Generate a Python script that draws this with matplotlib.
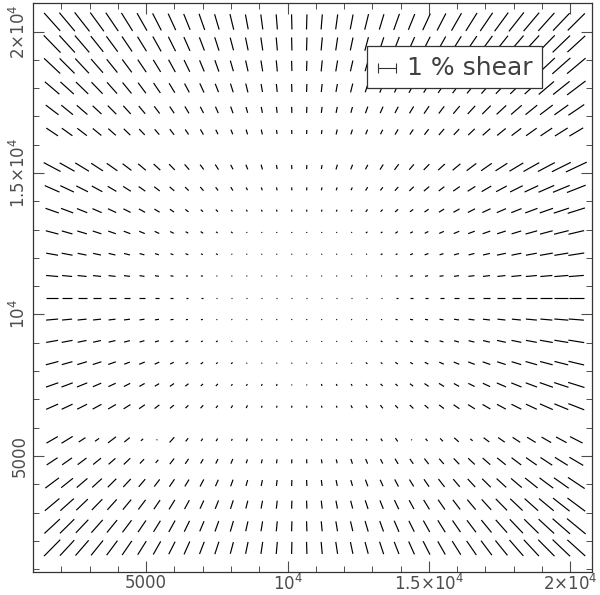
import numpy as np
import matplotlib
matplotlib.use('Agg')
import matplotlib.pyplot as plt
from matplotlib.collections import LineCollection
from matplotlib.patches import Rectangle
from matplotlib.ticker import MultipleLocator

plt.rcParams['mathtext.default'] = 'regular'
plt.rcParams['mathtext.fontset'] = 'dejavusans'

# grid positions of the whiskers (columns left->right, rows top->bottom)
x_grid = [1670, 2200, 2730, 3260, 3790, 4320, 4850, 5380, 5910, 6440, 6970, 7500,
          8030, 8560, 9090, 9620, 10150, 10680, 11210, 11740, 12270, 12800, 13330, 13860,
          14390, 14920, 15450, 15980, 16510, 17040, 17570, 18100, 18630, 19160, 19690, 20220]
y_grid = [20340, 19560, 18785, 18005, 17230, 16450,
          15210, 14440, 13670, 12900, 12130, 11360, 10590, 9820, 9050, 8280, 7510, 6740,
          5570, 4810, 4045, 3280, 2515, 1750]

# whisker length per grid point, one row string per y_grid entry,
# one base-36 char per column, in units of 1/18 % shear
shear_rows = [
    "ooonmlkjihhggffffffffgghhijklmnooooo",
    "onmkjihhgfeedddddddddeeffghijklmnooo",
    "mlkihgfeedccbbbbaabbbbccdeffghjklnoo",
    "jihgfedcbaa99988888899aabbcdefghikln",
    "gfeccba98877766666666777899abcdefghj",
    "edcba987766555544445555667889abcdefg",
    "jhgedba98766555444455567789acdegijln",
    "gfdca987655443333333344567789bcefhik",
    "edba98765433222222222334456789abdegi",
    "dba9876543322111111112233456789acdfg",
    "cb98765433221111111111223445679abdeg",
    "ca987654322" "111111111111" "23345678abcef",
    "ca987654322" "111111111111" "233456789bcef",
    "ca987654322" "111111111111" "233456789bcef",
    "cb98765433221111111111223445679abdeg",
    "dba9866543322111111112233456789acdeg",
    "dcb987655433222211222233456678abcefh",
    "dcba98765443332222223344556789abcefh",
    "dd85a731743323222222223413463789abce",
    "dcba9964765554444444555667789abcdefg",
    "hfedcba9988776666666677889aabcdeghik",
    "jigfedcbba9998888888899aabccdeghijlm",
    "lkihgfeddcbbbaaaaaaaabbccdeefghjklno",
    "nlkjihgfeeddccccccccccddeffghijlmnoo",
]

# the whiskers point away from this position
x_cen = 10400
y_cen = 10590

pct_len = 640.  # plotted length of 1 % shear

tick_vals = [5000, 10000, 15000, 20000]
tick_text = ['5000', r'$10^4$', r'$1.5{\times}10^4$', r'$2{\times}10^4$']

shear = np.array([[int(c, 36) for c in row] for row in shear_rows]) / 18.

X, Y = np.meshgrid(x_grid, y_grid)
phi = np.arctan2(Y - y_cen, X - x_cen)
half = 0.5 * shear * pct_len
dx = half * np.cos(phi)
dy = half * np.sin(phi)
segs = np.stack([np.stack([X - dx, Y - dy], -1),
                 np.stack([X + dx, Y + dy], -1)], axis=2).reshape(-1, 2, 2)

fig = plt.figure(figsize=(6, 5.95), dpi=100)
ax = fig.add_axes([0.055, 0.0387, 0.9317, 0.9563])

ax.add_collection(LineCollection(segs, colors='k', linewidths=0.85))

# legend box
ax.add_patch(Rectangle((12813, 18005), 6194, 1484, facecolor='white',
                       edgecolor='0.2', lw=0.9, zorder=3))
ax.errorbar(13203 + pct_len / 2, 18711, xerr=pct_len / 2, color='0.2', lw=0.8,
            capsize=3.5, capthick=0.8, zorder=4)
ax.text(14229, 18711, '1 % shear', fontsize=18, color='0.25', ha='left', va='center', zorder=4)

ax.set_xlim(993, 20776)
ax.set_ylim(900, 21009)

ax.set_xticks(tick_vals)
ax.set_xticklabels(tick_text)
ax.set_yticks(tick_vals)
ax.set_yticklabels(tick_text, rotation=90, va='center')
ax.xaxis.set_minor_locator(MultipleLocator(1000))
ax.yaxis.set_minor_locator(MultipleLocator(1000))
ax.tick_params(which='both', direction='in', top=True, right=True, color='0.3',
               labelsize=12, labelcolor='0.3')
ax.tick_params(axis='x', pad=1.5)
ax.tick_params(axis='y', pad=3)
ax.tick_params(which='major', length=8, width=0.8)
ax.tick_params(which='minor', length=4, width=0.7)
for s in ax.spines.values():
    s.set_color('0.2')
    s.set_linewidth(0.9)

plt.savefig('out.png', dpi=100)
